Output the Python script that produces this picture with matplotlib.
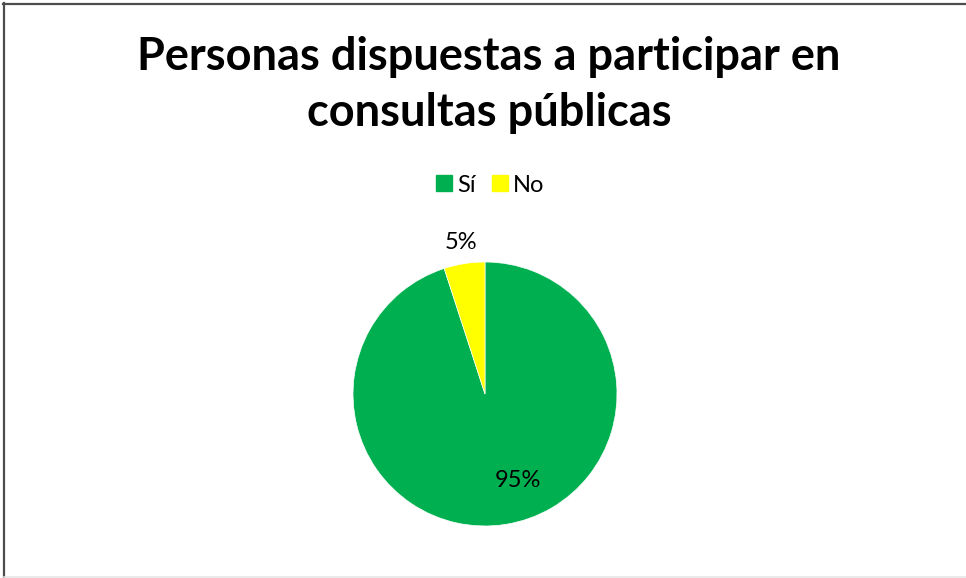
import matplotlib.pyplot as plt
import numpy as np
from matplotlib.lines import Line2D

plt.rcParams['font.family'] = ['Lato', 'DejaVu Sans']

categories = ['Sí', 'No']
values = [95, 5]
colors = ['#00B050', '#FFFF00']
title = 'Personas dispuestas a participar en\nconsultas públicas'

W, H = 966, 578
fig = plt.figure(figsize=(W / 100, H / 100), dpi=100)

# pie centre and radius in pixels
cx, cy, r = 485, 394, 132
ax = fig.add_axes([(cx - r) / W, (H - cy - r) / H, 2 * r / W, 2 * r / H])
wedges, _ = ax.pie(values, colors=colors, startangle=90, counterclock=False,
                   radius=1.0, wedgeprops=dict(linewidth=0.5, edgecolor='white'))
ax.set_xlim(-1, 1)
ax.set_ylim(-1, 1)
ax.set_aspect('equal')
ax.axis('off')

# percentage labels: small slice outside, big slice inside
total = sum(values)
for w, v, dist, shift in zip(wedges, values, [0.70, 1.16], [12, 0]):
    ang = np.deg2rad((w.theta1 + w.theta2) / 2 + shift)
    ax.text(dist * np.cos(ang), dist * np.sin(ang), f'{round(100 * v / total)}%',
            ha='center', va='center', fontsize=17, color='black', clip_on=False)

fig.text(489 / W, 1 - 85 / H, title, ha='center', va='center',
         fontsize=32.5, fontweight='bold', linespacing=1.42)

handles = [Line2D([], [], marker='s', linestyle='none', markersize=11,
                  markerfacecolor=c, markeredgecolor=c) for c in colors]
fig.legend(handles, categories, loc='center', bbox_to_anchor=(489 / W, 1 - 185 / H),
           ncol=2, frameon=False, fontsize=17, handletextpad=0.1,
           columnspacing=0.6, handlelength=0.9)

# outer frame
fig.add_artist(Line2D([4 / W, 4 / W], [0, 1 - 3 / H], transform=fig.transFigure,
                      color='#4d4d4d', linewidth=1.6))
fig.add_artist(Line2D([3 / W, 1], [1 - 4 / H, 1 - 4 / H], transform=fig.transFigure,
                      color='#4d4d4d', linewidth=1.6))
fig.add_artist(Line2D([4 / W, 1], [1.5 / H, 1.5 / H], transform=fig.transFigure,
                      color='#e6e6e6', linewidth=1.2))

fig.savefig('out.png', dpi=100)
